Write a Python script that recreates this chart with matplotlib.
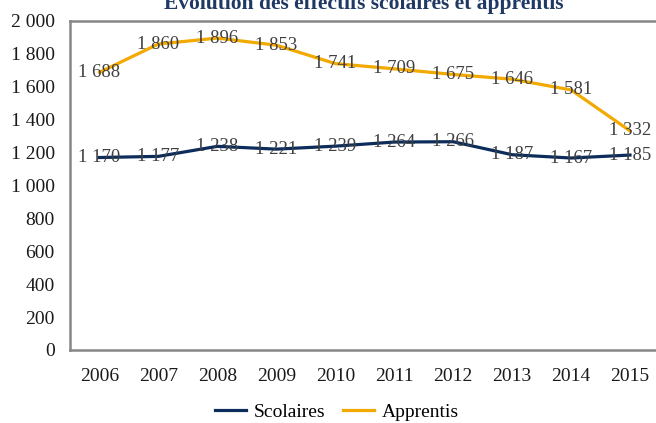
import matplotlib
matplotlib.use("Agg")
import matplotlib.pyplot as plt

years = ['2006', '2007', '2008', '2009', '2010', '2011', '2012', '2013', '2014', '2015']
scolaires = [1170, 1177, 1238, 1221, 1239, 1264, 1266, 1187, 1167, 1185]
apprentis = [1688, 1860, 1896, 1853, 1741, 1709, 1675, 1646, 1581, 1332]
yticks = [0, 200, 400, 600, 800, 1000, 1200, 1400, 1600, 1800, 2000]

navy = '#0c2d5c'
orange = '#f2a900'
grey = '#404040'

plt.rcParams['font.family'] = ['Liberation Serif', 'DejaVu Serif']

def fmt(v):
    return '{:,}'.format(v).replace(',', ' ')

fig = plt.figure(figsize=(6.56, 4.23), dpi=100)
ax = fig.add_axes([0.1067, 0.1726, 0.8986, 0.7778])

x = list(range(len(years)))
ax.plot(x, scolaires, color=navy, lw=2.3, label='Scolaires')
ax.plot(x, apprentis, color=orange, lw=2.3, label='Apprentis')

for xi, v in zip(x, scolaires):
    ax.text(xi, v, fmt(v), ha='center', va='center', fontsize=13.5, color=grey)
for xi, v in zip(x, apprentis):
    ax.text(xi, v, fmt(v), ha='center', va='center', fontsize=13.5, color=grey)

ax.set_xlim(-0.5, 9.5)
ax.set_ylim(0, 2000)
ax.set_xticks(x)
ax.set_xticklabels(years)
ax.set_yticks(yticks)
ax.set_yticklabels([fmt(v) for v in yticks])
ax.tick_params(axis='x', length=0, pad=13, labelsize=14, colors='#1a1a1a')
ax.tick_params(axis='y', length=0, pad=11, labelsize=14, colors='#1a1a1a')

for side in ['left', 'bottom', 'top']:
    ax.spines[side].set_color('#868686')
    ax.spines[side].set_linewidth(1.8)
ax.spines['right'].set_visible(False)

fig.text(0.555, 0.995, 'Évolution des effectifs scolaires et apprentis',
         ha='center', va='center', fontsize=15.5, fontweight='bold', color='#1f3864')

fig.legend(loc='center', bbox_to_anchor=(0.513, 0.026), ncol=2, frameon=False,
           fontsize=14, handlelength=1.6, columnspacing=0.9, handletextpad=0.4)

fig.savefig('out.png', dpi=100)
